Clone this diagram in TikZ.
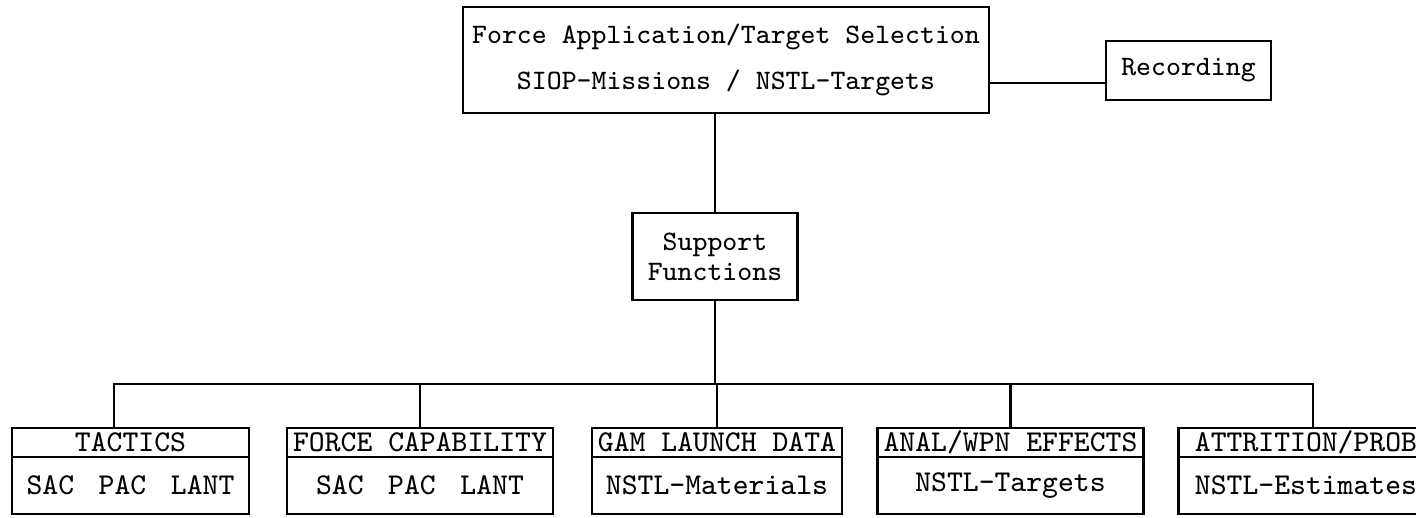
\documentclass[tikz,border=0pt]{standalone}

\begin{document}
\begin{tikzpicture}[
    fa_box/.style={shape=rectangle,draw,line width=0.6pt,font=\ttfamily\fontsize{8}{13}\selectfont,align=center,inner sep=0pt},
    fa_head/.style={fa_box,minimum height=0.29cm,font=\ttfamily\fontsize{8.6}{10}\selectfont},
    fa_body/.style={fa_box,minimum height=0.57cm,font=\ttfamily\fontsize{8.6}{10}\selectfont},
    fa_line/.style={line width=0.8pt}]
    \clip (0,0) rectangle (14.16,5.18);
    \node[fa_box,minimum width=5.26cm,minimum height=1.06cm] (fats) at (7.26,4.58) {Force Application/Target Selection\\SIOP-Missions / NSTL-Targets};
    \node[fa_box,minimum width=1.65cm,minimum height=0.59cm] (rec) at (11.885,4.475) {Recording};
    \node[fa_box,minimum width=1.65cm,minimum height=0.87cm,font=\ttfamily\fontsize{8}{8.5}\selectfont] (sup) at (7.15,2.615) {Support\\Functions};
    \draw[fa_line] ([yshift=-0.125cm]rec.west) -- ([yshift=-0.125cm]rec.west -| fats.east);
    \draw[fa_line] (fats.south -| sup.north) -- (sup.north);
    % the five support functions
    \node[fa_head,minimum width=2.37cm] (tac) at (1.305,0.755) {TACTICS};
    \node[fa_body,minimum width=2.37cm] (tacb) at (1.305,0.325) {SAC\hspace{7pt}PAC\hspace{7pt}LANT};
    \node[fa_head,minimum width=2.66cm] (fc) at (4.20,0.755) {FORCE CAPABILITY};
    \node[fa_body,minimum width=2.66cm] (fcb) at (4.20,0.325) {SAC\hspace{7pt}PAC\hspace{7pt}LANT};
    \node[fa_head,minimum width=2.50cm] (gam) at (7.17,0.755) {GAM LAUNCH DATA};
    \node[fa_body,minimum width=2.50cm] (gamb) at (7.17,0.325) {NSTL-Materials};
    \node[fa_head,minimum width=2.66cm] (anal) at (10.105,0.755) {ANAL/WPN EFFECTS};
    \node[fa_body,minimum width=2.66cm] (analb) at (10.105,0.325) {NSTL-Targets};
    \node[fa_head,minimum width=2.55cm] (attr) at (13.06,0.755) {ATTRITION/PROB};
    \node[fa_body,minimum width=2.55cm] (attrb) at (13.06,0.325) {NSTL-Estimates};
    \coordinate (bus) at (7.15,1.34);
    \draw[fa_line] (sup.south) -- (bus);
    \draw[fa_line] ([xshift=-0.165cm]tac.north) |- (bus) -| ([xshift=0.07cm]attr.north);
    \foreach \n in {fc,gam,anal} \draw[fa_line] (\n.north) -- (\n.north |- bus);
\end{tikzpicture}
\end{document}
